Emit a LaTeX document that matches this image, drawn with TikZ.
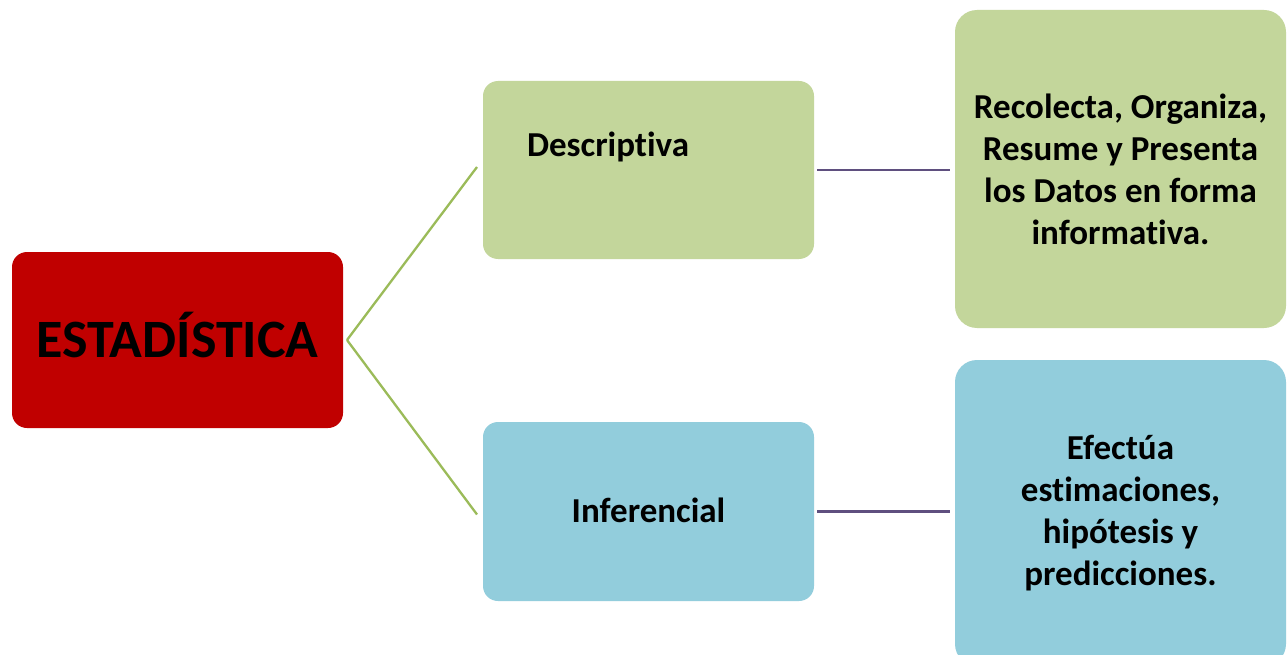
\documentclass[tikz,border=0pt]{standalone}
\usepackage{fontspec}
\setmainfont{Carlito}[Ligatures={TeX,NoCommon,NoRare,NoContextual}]
\definecolor{estred}{HTML}{C00000}
\definecolor{descgreen}{HTML}{C3D69B}
\definecolor{infblue}{HTML}{92CDDC}
\definecolor{linegreen}{HTML}{9BBB59}
\definecolor{linepurple}{HTML}{5F4F7F}
\begin{document}
\begin{tikzpicture}[x=1pt,y=-1pt,
  box/.style={rounded corners=15pt, inner sep=0pt, outer sep=0pt, text=black,
    font=\bfseries\fontsize{35}{42}\selectfont, align=center},
  bigbox/.style={box, rounded corners=22pt},
  txt/.style={inner sep=0pt, outer sep=0pt, text=black, font=\bfseries\fontsize{35}{42}\selectfont},
  gline/.style={draw=linegreen, line width=2.3pt},
  pline/.style={draw=linepurple, line width=2.3pt}]
\useasboundingbox (0,0) rectangle (1287,655);
\clip (0,0) rectangle (1287,655);
\fill[white] (0,0) rectangle (1287,655);

\node[box, fill=estred, minimum width=331pt, minimum height=176pt] (est) at (177.5,340) {};
\node[txt, anchor=base, font=\bfseries\fontsize{54}{60}\selectfont] (estt) at (177.5,357) {ESTADÍSTICA};

\node[box, fill=descgreen, minimum width=331pt, minimum height=178pt] (desc) at (648.5,170) {};
\node[txt, anchor=base west] (desct) at (527,157) {Descriptiva};

\node[box, fill=infblue, minimum width=331pt, minimum height=179pt] (inf) at (648.5,511.5) {};
\node[txt, anchor=base] (inft) at (648.5,522) {Inferencial};

\node[bigbox, fill=descgreen, minimum width=331pt, minimum height=318pt] (rt) at (1120.5,169)
  {Recolecta, Organiza,\\Resume y Presenta\\los Datos en forma\\informativa.};

\node[bigbox, fill=infblue, minimum width=331pt, minimum height=306pt] (rb) at (1120.5,513)
  {Efectúa\\estimaciones,\\hipótesis y\\predicciones.};

\draw[gline] ([xshift=4pt]est.east) -- ([xshift=-6pt,yshift=3pt]desc.west);
\draw[gline] ([xshift=4pt]est.east) -- ([xshift=-6pt,yshift=-3pt]inf.west);

\draw[pline, shorten <=3pt, shorten >=5pt] (desc.east) -- (desc.east -| rt.west);
\draw[pline, shorten <=3pt, shorten >=5pt] (inf.east) -- (inf.east -| rb.west);
\end{tikzpicture}
\end{document}
